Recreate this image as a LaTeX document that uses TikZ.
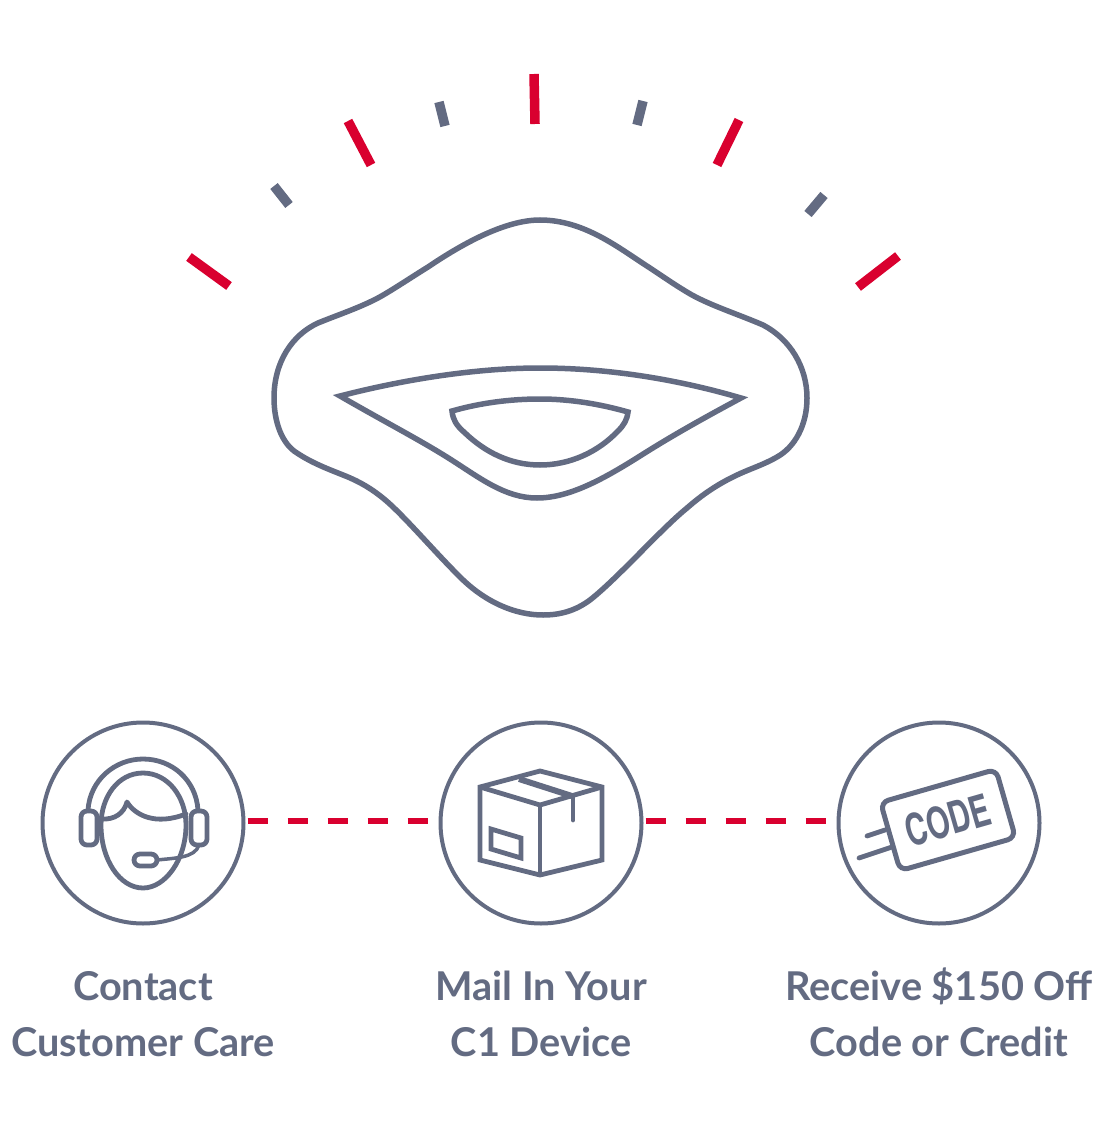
\documentclass[tikz,border=0pt]{standalone}
\usepackage{fontspec}
\setmainfont{Lato}
\newfontfamily\codefont{TeX Gyre Heros}
\definecolor{slate}{HTML}{636B82}
\definecolor{alert}{HTML}{D9002F}
\tikzset{
  ring/.style={circle, draw=slate, line width=4pt, minimum size=201pt, inner sep=0pt},
  outline/.style={draw=slate, line width=5.5pt, miter limit=10},
  icon/.style={draw=slate, line width=4.8pt, line join=round, line cap=round},
  redtick/.style={draw=alert, line width=9.5pt},
  graytick/.style={draw=slate, line width=9.5pt},
  redlink/.style={draw=alert, line width=5.5pt, dash pattern=on 20pt off 20pt},
  caption/.style={text=slate, align=center, font=\bfseries\fontsize{39.7}{56}\selectfont, inner sep=0pt},
  codetag/.style={draw=slate, line width=5pt, rounded corners=8pt, rotate=16, minimum width=120pt, minimum height=71pt, inner sep=0pt, text=slate}
}

\begin{document}
\begin{tikzpicture}[x=1pt,y=-1pt]
\useasboundingbox (0,0) rectangle (1096,1139);

% ticks
\draw[redtick] (189,257) -- (229,286);
\draw[graytick] (274,186) -- (289,205);
\draw[redtick] (348,121) -- (371,165);
\draw[graytick] (439,102) -- (445,126);
\draw[redtick] (534,74) -- (535,124);
\draw[graytick] (643,101) -- (637,125);
\draw[redtick] (739,120) -- (717,165);
\draw[graytick] (824,195) -- (808,214);
\draw[redtick] (898,256) -- (858,287);

% device
\draw[outline] (540,220) .. controls (585,220) and (620,249) .. (650,268)
  .. controls (665,278) and (678,287) .. (692,295)
  .. controls (712,306) and (740,315) .. (763,325)
  .. controls (790,339) and (807,367) .. (807,398)
  .. controls (807,425) and (795,447) .. (777,457)
  .. controls (763,465) and (752,468) .. (737,475)
  .. controls (718,484) and (703,494) .. (687,508)
  .. controls (660,530) and (618,578) .. (590,600)
  .. controls (575,611) and (560,615) .. (543,615)
  .. controls (515,615) and (485,602) .. (460,577)
  .. controls (435,552) and (412,525) .. (392,506)
  .. controls (376,491) and (361,482) .. (343,475)
  .. controls (328,469) and (312,463) .. (297,453)
  .. controls (282,444) and (274,422) .. (274,398)
  .. controls (274,362) and (292,335) .. (318,323)
  .. controls (340,314) and (365,306) .. (385,294)
  .. controls (400,285) and (415,275) .. (428,267)
  .. controls (462,244) and (505,220) .. (540,220) -- cycle;
\draw[outline] (340,396) .. controls (410,378) and (480,368) .. (540,368)
  .. controls (610,368) and (680,380) .. (741,398)
  .. controls (700,420) and (670,437) .. (640,456)
  .. controls (605,478) and (570,498) .. (537,498)
  .. controls (505,498) and (480,478) .. (450,459)
  .. controls (420,440) and (385,422) .. (340,396) -- cycle;
\draw[outline] (452,411) .. controls (480,403) and (510,399) .. (540,399)
  .. controls (570,399) and (600,404) .. (628,412)
  .. controls (627,420) and (624,425) .. (618,431)
  .. controls (598,452) and (570,465) .. (540,465)
  .. controls (510,465) and (485,452) .. (465,433)
  .. controls (456,425) and (453,420) .. (452,411) -- cycle;

% steps
\node[ring] (care) at (143,823) {};
\node[ring] (mail) at (541,823) {};
\node[ring] (credit) at (939,823) {};
\draw[redlink] ([shift={(2pt,2pt)}]care.east) -- ([yshift=2pt]mail.west);
\draw[redlink] ([shift={(2pt,2pt)}]mail.east) -- ([yshift=2pt]credit.west);

\node[caption] (caretext) at (143,1014) {Contact\\Customer Care};
\node[caption] (mailtext) at (541,1014) {Mail In Your\\C1 Device};
\node[caption] (credittext) at (939,1012) {Receive \$150 Off\\Code or Credit};

% headset
\draw[icon] (88,810) .. controls (90,780) and (115,759) .. (143,759)
  .. controls (172,759) and (196,780) .. (198,810);
\draw[icon] (143,773) .. controls (168,773) and (186,797) .. (186,825)
  .. controls (186,860) and (165,888) .. (143,888)
  .. controls (120,888) and (101,860) .. (101,825)
  .. controls (101,797) and (118,773) .. (143,773) -- cycle;
\draw[icon] (101,819) .. controls (115,820) and (124,813) .. (127,802)
  .. controls (135,815) and (155,826) .. (186,814);
\draw[icon, rounded corners=6pt] (81,811) rectangle (97,845);
\draw[icon, rounded corners=6pt] (191,811) rectangle (207,845);
\draw[icon, rounded corners=6pt] (134,854) rectangle (157,866);
\draw[icon, line width=3.5pt] (157,860) .. controls (175,858) and (195,858) .. (199,845);

% box
\draw[icon, line cap=butt, line join=miter] (480,787) -- (540,771) -- (602,787) -- (602,860)
  -- (540,875) -- (480,860) -- cycle;
\draw[icon, line cap=butt, line join=miter] (480,787) -- (540,805) -- (602,787);
\draw[icon, line cap=butt] (540,805) -- (540,875);
\draw[icon, line width=6pt, line cap=butt] (519,779) -- (572,796);
\draw[icon] (573,797) -- (573,820);
\draw[icon, line cap=butt, line join=miter] (491,829) -- (521,838) -- (521,858) -- (491,849) -- cycle;

% code
\node[codetag] (code) at (948,820) {\codefont\bfseries\fontsize{44}{44}\selectfont\scalebox{.68}[1]{CODE}};
\draw[icon] (867,836) -- (885,830);
\draw[icon] (859,858) -- (892,847);
\end{tikzpicture}
\end{document}
